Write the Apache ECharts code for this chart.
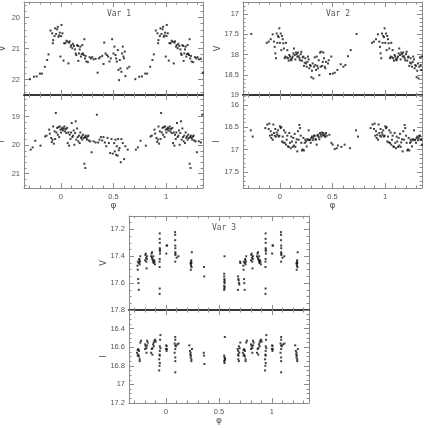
<!DOCTYPE html>
<html>
<head>
<meta charset="utf-8">
<script src="https://cdn.jsdelivr.net/npm/echarts@6/dist/echarts.min.js"></script>
<style>
  html, body { margin: 0; padding: 0; background: #fff; }
  #chart { width: 428px; height: 428px; }
</style>
</head>
<body>
<div id="chart"></div>
<script>
// 相位 [-0.35, 0.65) 的原始观测点 [phase, mag]，phase <= 0.35 的点在 +1 处重复绘制
const var1V = [
  [-0.293,21.99],[-0.256,21.91],[-0.230,21.90],[-0.199,21.81],[-0.180,21.81],[-0.152,21.59],[-0.130,21.37],[-0.117,21.19],
  [-0.098,20.42],[-0.082,20.51],[-0.076,20.83],[-0.073,20.73],[-0.060,20.60],[-0.054,20.35],[-0.045,20.53],[-0.035,20.38],
  [-0.029,20.30],[-0.023,20.62],[-0.016,20.58],[-0.010,20.49],[-0.004,21.26],[0.003,20.60],[0.006,20.24],[0.015,20.51],
  [0.025,21.39],[0.031,20.83],[0.043,20.83],[0.053,20.75],[0.062,20.78],[0.072,21.48],[0.078,20.81],[0.084,20.77],
  [0.094,20.94],[0.100,20.89],[0.109,20.99],[0.116,20.85],[0.125,20.92],[0.135,21.03],[0.141,21.16],[0.147,21.21],
  [0.154,20.89],[0.163,20.92],[0.166,21.40],[0.172,21.16],[0.179,21.03],[0.185,20.94],[0.191,21.26],[0.198,21.18],
  [0.204,20.89],[0.210,21.16],[0.217,21.21],[0.223,20.70],[0.229,21.32],[0.235,21.24],[0.242,21.42],[0.257,21.44],
  [0.273,21.28],[0.286,21.32],[0.298,21.28],[0.311,21.35],[0.330,21.33],[0.349,21.78],[0.361,21.32],[0.374,21.28],
  [0.393,21.24],[0.405,21.50],[0.412,20.81],[0.424,21.16],[0.437,21.21],[0.449,21.26],[0.462,21.42],[0.475,21.32],
  [0.487,20.70],[0.500,21.16],[0.509,20.94],[0.519,21.21],[0.525,21.32],[0.531,21.42],[0.541,21.05],[0.547,21.69],
  [0.553,22.02],[0.560,21.37],[0.566,21.64],[0.575,21.75],[0.582,21.16],[0.588,20.94],[0.594,21.26],[0.600,21.32],
  [0.607,21.10],[0.613,21.89],[0.632,21.64],[0.650,21.59]
];
const var1I = [
  [-0.287,20.16],[-0.268,20.08],[-0.243,19.85],[-0.193,20.02],[-0.149,19.70],[-0.136,19.67],[-0.111,19.46],[-0.105,19.60],
  [-0.092,19.75],[-0.086,19.89],[-0.079,19.81],[-0.073,19.35],[-0.067,19.95],[-0.060,19.52],[-0.054,19.79],[-0.048,18.88],
  [-0.042,19.56],[-0.035,19.40],[-0.029,19.64],[-0.023,19.37],[-0.016,19.72],[-0.010,19.35],[-0.004,19.46],[0.002,19.56],
  [0.009,19.44],[0.015,19.39],[0.021,19.49],[0.028,19.42],[0.034,19.35],[0.040,19.52],[0.047,19.44],[0.053,19.58],
  [0.059,19.40],[0.065,19.93],[0.072,19.56],[0.078,20.02],[0.084,19.64],[0.091,19.79],[0.097,19.56],[0.103,19.23],
  [0.109,19.72],[0.116,19.67],[0.122,19.49],[0.128,19.99],[0.135,19.58],[0.141,19.17],[0.147,19.81],[0.154,19.42],
  [0.160,19.72],[0.166,19.87],[0.172,19.67],[0.179,19.93],[0.185,19.56],[0.191,19.75],[0.198,19.70],[0.204,19.81],
  [0.210,19.64],[0.217,19.75],[0.223,20.65],[0.229,19.72],[0.232,20.80],[0.235,19.67],[0.242,19.75],[0.248,19.81],
  [0.254,19.70],[0.261,19.67],[0.267,19.84],[0.280,19.87],[0.292,20.25],[0.311,19.87],[0.330,19.91],[0.342,18.94],
  [0.355,19.91],[0.367,19.81],[0.380,19.72],[0.393,19.84],[0.405,19.72],[0.418,19.91],[0.431,20.04],[0.443,19.75],
  [0.456,19.93],[0.468,20.28],[0.481,19.79],[0.493,20.30],[0.506,19.93],[0.512,20.22],[0.519,19.81],[0.525,20.34],
  [0.531,20.04],[0.538,20.37],[0.544,19.79],[0.550,20.18],[0.557,20.10],[0.569,20.60],[0.575,19.79],[0.588,19.93],
  [0.601,20.49],[0.613,20.04],[0.635,20.16]
];
const var2V = [
  [-0.271,17.49],[-0.125,17.71],[-0.106,17.68],[-0.087,17.62],[-0.068,17.50],[-0.056,17.68],[-0.049,17.81],[-0.043,17.97],
  [-0.037,18.09],[-0.030,17.48],[-0.024,17.71],[-0.018,17.54],[-0.011,17.57],[-0.005,17.35],[0.001,17.71],[0.008,17.48],
  [0.014,17.89],[0.020,17.54],[0.027,17.62],[0.033,17.72],[0.039,17.85],[0.046,18.09],[0.052,18.05],[0.058,17.71],
  [0.065,18.07],[0.071,17.89],[0.077,18.09],[0.084,18.15],[0.090,18.01],[0.096,18.05],[0.103,18.12],[0.109,18.14],
  [0.115,18.09],[0.122,18.05],[0.128,17.97],[0.134,17.85],[0.141,18.01],[0.147,18.12],[0.153,17.95],[0.160,17.99],
  [0.166,18.05],[0.172,17.95],[0.179,18.04],[0.185,18.09],[0.191,18.14],[0.198,17.99],[0.204,17.93],[0.210,18.15],
  [0.217,18.07],[0.223,18.05],[0.229,18.28],[0.236,18.20],[0.242,18.09],[0.248,18.22],[0.255,18.30],[0.261,18.18],
  [0.267,18.05],[0.274,18.12],[0.280,18.34],[0.286,18.26],[0.293,18.28],[0.299,18.56],[0.305,18.40],[0.312,18.22],
  [0.318,18.59],[0.324,18.30],[0.331,18.07],[0.337,18.26],[0.343,18.38],[0.350,18.05],[0.356,18.28],[0.362,18.34],
  [0.369,18.14],[0.375,18.51],[0.381,17.95],[0.388,18.30],[0.394,17.93],[0.400,18.28],[0.407,18.18],[0.413,17.95],
  [0.419,18.09],[0.426,18.30],[0.432,18.34],[0.438,18.18],[0.457,18.22],[0.464,18.14],[0.476,18.48],[0.489,18.05],
  [0.502,18.47],[0.521,18.45],[0.546,18.38],[0.578,18.24],[0.603,18.30],[0.622,18.26],[0.647,18.04],[0.673,17.89]
];
const var2I = [
  [-0.277,16.57],[-0.258,16.71],[-0.138,16.52],[-0.119,16.44],[-0.106,16.54],[-0.100,16.42],[-0.094,16.69],[-0.087,16.59],
  [-0.081,16.74],[-0.075,16.67],[-0.068,16.78],[-0.062,16.44],[-0.056,16.63],[-0.049,16.69],[-0.043,16.54],[-0.037,16.71],
  [-0.030,16.62],[-0.024,16.67],[-0.018,16.57],[-0.011,16.71],[-0.005,16.69],[0.001,16.48],[0.008,16.52],[0.014,16.50],
  [0.020,16.82],[0.027,16.71],[0.033,16.84],[0.039,16.57],[0.046,16.85],[0.052,16.62],[0.058,16.89],[0.065,16.78],
  [0.071,16.69],[0.077,16.93],[0.084,16.94],[0.090,16.63],[0.096,16.85],[0.103,16.97],[0.109,16.71],[0.115,16.82],
  [0.122,16.94],[0.128,16.74],[0.134,16.91],[0.141,16.65],[0.147,16.94],[0.153,16.84],[0.160,16.77],[0.166,17.04],
  [0.172,16.59],[0.179,16.78],[0.185,16.45],[0.191,16.52],[0.198,16.69],[0.204,16.85],[0.210,17.02],[0.217,17.00],
  [0.223,16.74],[0.229,17.02],[0.236,16.85],[0.242,16.78],[0.248,16.82],[0.255,16.93],[0.261,16.77],[0.267,16.78],
  [0.274,16.57],[0.280,16.79],[0.286,16.78],[0.293,16.85],[0.299,16.74],[0.305,16.71],[0.312,16.79],[0.318,16.74],
  [0.324,16.69],[0.331,16.69],[0.337,16.78],[0.343,16.77],[0.350,16.89],[0.356,16.69],[0.362,16.67],[0.369,16.72],
  [0.375,16.77],[0.381,16.63],[0.388,16.67],[0.394,16.71],[0.400,16.62],[0.407,16.67],[0.413,16.63],[0.419,16.69],
  [0.426,16.67],[0.432,16.72],[0.438,16.63],[0.445,16.69],[0.470,16.67],[0.489,16.85],[0.502,16.89],[0.521,16.99],
  [0.540,16.97],[0.552,16.91],[0.584,16.94],[0.615,16.89],[0.666,16.97]
];
const var3V = [
  [-0.270,17.47],[-0.268,17.50],[-0.266,17.44],[-0.263,17.57],[-0.261,17.60],[-0.258,17.65],[-0.257,17.45],[-0.254,17.42],
  [-0.251,17.43],[-0.249,17.46],[-0.246,17.44],[-0.243,17.40],
  [-0.198,17.43],[-0.195,17.39],[-0.192,17.38],[-0.189,17.41],[-0.186,17.44],[-0.184,17.49],[-0.181,17.42],[-0.179,17.40],
  [-0.141,17.40],[-0.137,17.38],[-0.133,17.41],[-0.129,17.42],[-0.125,17.43],[-0.121,17.44],[-0.117,17.45],[-0.113,17.43],
  [-0.109,17.44],[-0.105,17.46],[-0.132,17.37],[-0.120,17.40],
  [-0.060,17.23],[-0.060,17.27],[-0.059,17.30],[-0.059,17.34],[-0.058,17.35],[-0.058,17.36],[-0.057,17.38],[-0.060,17.42],
  [-0.061,17.44],[-0.061,17.48],[-0.060,17.64],[-0.061,17.68],
  [0.002,17.38],[0.005,17.32],[0.010,17.32],
  [0.085,17.22],[0.086,17.24],[0.086,17.28],[0.087,17.32],[0.088,17.34],[0.087,17.37],[0.089,17.38],[0.088,17.39],
  [0.087,17.44],[0.100,17.41],[0.117,17.40],
  [0.232,17.45],[0.234,17.46],[0.236,17.47],[0.237,17.44],[0.239,17.45],[0.241,17.48],[0.243,17.37],[0.234,17.50],[0.238,17.43],
  [0.358,17.48],[0.361,17.55],
  [0.552,17.40],[0.549,17.53],[0.549,17.55],[0.551,17.57],[0.553,17.58],[0.551,17.59],[0.553,17.60],[0.549,17.62],
  [0.553,17.63],[0.551,17.64],[0.549,17.65],
  [0.680,17.55],[0.683,17.57],[0.686,17.58],[0.689,17.60],[0.692,17.61],[0.680,17.65],[0.699,17.44],[0.702,17.45]
];
const var3I = [
  [-0.274,16.66],[-0.268,16.63],[-0.262,16.62],[-0.255,16.64],[-0.262,16.68],[-0.255,16.70],[-0.249,16.73],[-0.268,16.69],
  [-0.249,16.75],[-0.243,16.55],[-0.236,16.53],
  [-0.198,16.57],[-0.192,16.59],[-0.185,16.61],[-0.179,16.58],[-0.198,16.62],[-0.185,16.66],[-0.179,16.53],[-0.173,16.55],
  [-0.141,16.66],[-0.135,16.62],[-0.129,16.61],[-0.122,16.57],[-0.116,16.55],[-0.110,16.53],[-0.103,16.52],[-0.097,16.54],
  [-0.129,16.68],[-0.116,16.59],
  [-0.053,16.47],[-0.056,16.52],[-0.059,16.59],[-0.053,16.61],[-0.059,16.64],[-0.062,16.68],[-0.059,16.69],[-0.065,16.73],
  [-0.059,16.77],[-0.062,16.80],[-0.065,16.85],
  [0.002,16.58],[0.005,16.59],[0.008,16.62],[-0.001,16.62],[0.005,16.64],
  [0.087,16.49],[0.087,16.52],[0.081,16.56],[0.087,16.58],[0.093,16.59],[0.087,16.62],[0.081,16.66],[0.087,16.71],
  [0.087,16.75],[0.087,16.87],[0.106,16.57],[0.118,16.56],
  [0.220,16.58],[0.226,16.64],[0.232,16.66],[0.229,16.68],[0.236,16.69],[0.232,16.71],[0.239,16.73],[0.239,16.75],[0.245,16.62],
  [0.356,16.66],[0.359,16.69],[0.362,16.78],
  [0.555,16.49],[0.549,16.69],[0.552,16.71],[0.555,16.73],[0.549,16.75],[0.552,16.77],[0.555,16.74],[0.558,16.72],
  [0.676,16.62],[0.682,16.64],[0.679,16.68],[0.685,16.69],[0.682,16.73],[0.688,16.75],[0.695,16.61],[0.691,16.66],
  [0.701,16.55],[0.688,16.59]
];

// 刻度
const phaseMajor = [0, 0.5, 1];
const var1VTicks = [20, 21, 22];
const var1ITicks = [19, 20, 21];
const var2VTicks = [17, 17.5, 18, 18.5, 19];
const var2ITicks = [16, 16.5, 17, 17.5];
const var3VTicks = [17.2, 17.4, 17.6, 17.8];
const var3ITicks = [16.4, 16.6, 16.8, 17, 17.2];

const X_MIN = -0.35, X_MAX = 1.35;
const FRAME = '#8c8c8c', DIVIDER = '#2b2b2b', TEXT = '#555', DOT = '#111';
const LABEL_FONT = { color: TEXT, fontFamily: 'Liberation Sans', fontSize: 7.5 };

const grids = [], xAxes = [], yAxes = [], series = [], graphics = [];

function steps(a, b, s) {
  const out = [];
  for (let i = 0; a + i * s <= b + 1e-9; i++) out.push(+(a + i * s).toFixed(4));
  return out;
}

// 折叠相位：phase <= 0.35 的点在 phase + 1 处再画一次
function fold(points) {
  const out = points.slice();
  points.forEach(p => { if (p[0] + 1 <= X_MAX) out.push([+(p[0] + 1).toFixed(3), p[1]]); });
  return out;
}

function lineStyle(color) {
  return { color: color, width: color === DIVIDER ? 1.6 : 1 };
}

/**
 * 一个子图：四边都有内向刻度（主/次），标签只在左、下
 */
function addPanel(cfg) {
  const g = grids.length;
  grids.push({ left: cfg.box[0], top: cfg.box[1], width: cfg.box[2], height: cfg.box[3],
    containLabel: false, outerBoundsMode: 'none', show: false });
  const xMinor = steps(-0.3, 1.3, 0.1);
  const yMinor = steps(cfg.minorFrom, cfg.minorTo, cfg.minorStep);
  const xMain = xAxes.length, yMain = yAxes.length;

  [['bottom', cfg.bottomLine, cfg.xLabels], ['top', cfg.topLine, false]].forEach(([pos, line, lab]) => {
    xAxes.push({
      gridIndex: g, type: 'value', min: X_MIN, max: X_MAX, position: pos,
      axisLine: { show: true, onZero: false, lineStyle: lineStyle(line) },
      axisTick: { show: true, inside: true, length: 5, customValues: phaseMajor, lineStyle: { color: FRAME } },
      axisLabel: lab ? Object.assign({ show: true, customValues: phaseMajor, margin: 5,
        showMinLabel: true, showMaxLabel: true, formatter: v => String(+(+v).toFixed(2)) }, LABEL_FONT) : { show: false },
      splitLine: { show: false },
      name: lab ? 'φ' : '', nameLocation: 'middle', nameGap: 13, nameMoveOverlap: false,
      nameTextStyle: { color: TEXT, fontFamily: 'DejaVu Sans', fontSize: 9 }
    });
    xAxes.push({
      gridIndex: g, type: 'value', min: X_MIN, max: X_MAX, position: pos,
      axisLine: { show: false, onZero: false },
      axisTick: { show: true, inside: true, length: 2.5, customValues: xMinor, lineStyle: { color: FRAME } },
      axisLabel: { show: false }, splitLine: { show: false }
    });
  });

  [['left', true], ['right', false]].forEach(([pos, lab]) => {
    yAxes.push({
      gridIndex: g, type: 'value', min: cfg.yMin, max: cfg.yMax, inverse: true, position: pos,
      axisLine: { show: true, onZero: false, lineStyle: lineStyle(FRAME) },
      axisTick: { show: true, inside: true, length: 5, customValues: cfg.ticks, lineStyle: { color: FRAME } },
      axisLabel: lab ? Object.assign({ show: true, customValues: cfg.ticks, margin: 4,
        showMinLabel: true, showMaxLabel: true, formatter: v => String(+(+v).toFixed(2)) }, LABEL_FONT) : { show: false },
      splitLine: { show: false },
      name: lab ? cfg.name : '', nameLocation: 'middle', nameRotate: 90, nameGap: cfg.nameGap, nameMoveOverlap: false,
      nameTextStyle: { color: TEXT, fontFamily: 'DejaVu Sans', fontSize: 8 }
    });
    yAxes.push({
      gridIndex: g, type: 'value', min: cfg.yMin, max: cfg.yMax, inverse: true, position: pos,
      axisLine: { show: false, onZero: false },
      axisTick: { show: true, inside: true, length: 2.5, customValues: yMinor, lineStyle: { color: FRAME } },
      axisLabel: { show: false }, splitLine: { show: false }
    });
  });

  series.push({
    type: 'scatter', xAxisIndex: xMain, yAxisIndex: yMain, data: fold(cfg.data),
    symbol: 'rect', symbolSize: 2, itemStyle: { color: DOT }, silent: true
  });

  if (cfg.title) {
    graphics.push({ type: 'text', x: cfg.box[0] + 95, y: cfg.box[1] + 11.5, silent: true,
      style: { text: cfg.title, fill: TEXT, font: '8px "DejaVu Sans Mono"', textAlign: 'center', textVerticalAlign: 'middle' } });
  }
}

addPanel({ box: [24, 2, 179, 93], yMin: 19.5, yMax: 22.5, ticks: var1VTicks, minorFrom: 19.6, minorTo: 22.4, minorStep: 0.2,
  name: 'V', nameGap: 17, data: var1V, title: 'Var 1', bottomLine: DIVIDER, topLine: FRAME, xLabels: false });
addPanel({ box: [24, 95, 179, 93], yMin: 18.25, yMax: 21.5, ticks: var1ITicks, minorFrom: 18.4, minorTo: 21.4, minorStep: 0.2,
  name: 'I', nameGap: 18, data: var1I, bottomLine: FRAME, topLine: DIVIDER, xLabels: true });
addPanel({ box: [243, 2, 179, 93], yMin: 16.7, yMax: 19, ticks: var2VTicks, minorFrom: 16.8, minorTo: 18.9, minorStep: 0.1,
  name: 'V', nameGap: 21, data: var2V, title: 'Var 2', bottomLine: DIVIDER, topLine: FRAME, xLabels: false });
addPanel({ box: [243, 95, 179, 93], yMin: 15.78, yMax: 17.86, ticks: var2ITicks, minorFrom: 15.8, minorTo: 17.8, minorStep: 0.1,
  name: 'I', nameGap: 22, data: var2I, bottomLine: FRAME, topLine: DIVIDER, xLabels: true });
addPanel({ box: [129, 216, 180, 94], yMin: 17.1, yMax: 17.8, ticks: var3VTicks, minorFrom: 17.1, minorTo: 17.8, minorStep: 0.05,
  name: 'V', nameGap: 21, data: var3V, title: 'Var 3', bottomLine: DIVIDER, topLine: FRAME, xLabels: false });
addPanel({ box: [129, 310, 180, 93], yMin: 16.2, yMax: 17.2, ticks: var3ITicks, minorFrom: 16.25, minorTo: 17.15, minorStep: 0.05,
  name: 'I', nameGap: 21, data: var3I, bottomLine: FRAME, topLine: DIVIDER, xLabels: true });

const chart = echarts.init(document.getElementById('chart'), null, { renderer: 'canvas' });
chart.setOption({
  animation: false,
  backgroundColor: '#fff',
  grid: grids,
  xAxis: xAxes,
  yAxis: yAxes,
  series: series,
  graphic: graphics
});
</script>
</body>
</html>
